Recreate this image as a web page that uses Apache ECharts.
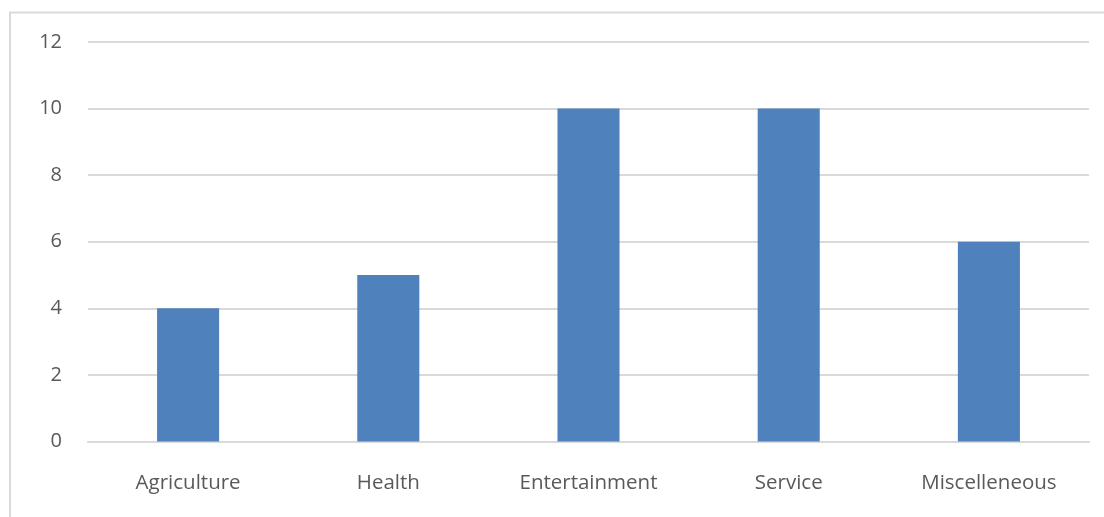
<!DOCTYPE html>
<html><head><meta charset="utf-8">
<script src="https://cdn.jsdelivr.net/npm/echarts@6/dist/echarts.min.js"></script>
<style>html,body{margin:0;padding:0;background:#fff}#c{width:1104px;height:517px}</style>
</head><body><div id="c"></div>
<script>
const categories = ['Agriculture', 'Health', 'Entertainment', 'Service', 'Miscelleneous'];
const values = [4, 5, 10, 10, 6];
const yTicks = [0, 2, 4, 6, 8, 10, 12];

const chart = echarts.init(document.getElementById('c'));
const font = '"Open Sans", "Liberation Sans", sans-serif';
chart.setOption({
  animation: false,
  graphic: [{type: 'rect', shape: {x: 10, y: 12.5, width: 1200, height: 600}, style: {fill: 'none', stroke: '#d9d9d9', lineWidth: 2}}],
  grid: {left: 88, right: 15, top: 42, bottom: 75.5},
  xAxis: {
    type: 'category', data: categories,
    axisLine: {lineStyle: {color: '#d9d9d9', width: 2}},
    axisTick: {show: false},
    axisLabel: {color: '#595959', fontSize: 20.5, fontFamily: font, margin: 31}
  },
  yAxis: {
    type: 'value', min: yTicks[0], max: yTicks[yTicks.length - 1], interval: 2,
    axisLine: {show: false}, axisTick: {show: false},
    splitLine: {lineStyle: {color: '#d9d9d9', width: 2}},
    axisLabel: {color: '#595959', fontSize: 20, fontFamily: font, margin: 26}
  },
  series: [{type: 'bar', data: values, barWidth: '31%', itemStyle: {color: '#4f81bd'}}]
});
</script></body></html>
